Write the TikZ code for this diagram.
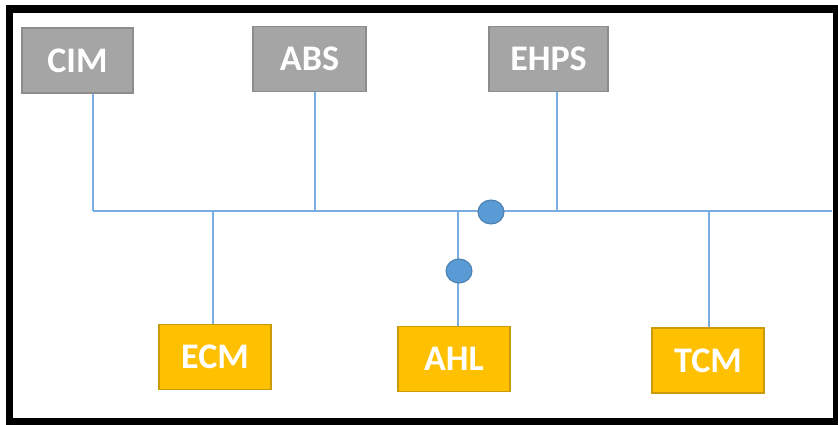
\documentclass[tikz,border=0pt]{standalone}
\usepackage{fontspec}
\setmainfont{Carlito}
\usetikzlibrary{shapes.geometric}
\definecolor{boxgray}{HTML}{A5A5A5}
\definecolor{boxgrayline}{HTML}{8C8C8C}
\definecolor{boxgold}{HTML}{FFC000}
\definecolor{boxgoldline}{HTML}{C99A0A}
\definecolor{busblue}{HTML}{7AAEE0}
\definecolor{dotblue}{HTML}{5B9BD5}
\definecolor{dotline}{HTML}{4A7FB0}

\begin{document}
\begin{tikzpicture}[x=0.02cm, y=-0.02cm,
    ecu/.style={draw, line width=0.6pt, minimum height=1.3cm, inner sep=0pt,
                text=white, font=\bfseries\fontsize{20.5}{20.5}\selectfont},
    graybox/.style={ecu, fill=boxgray, draw=boxgrayline},
    goldbox/.style={ecu, fill=boxgold, draw=boxgoldline},
    bus/.style={draw=busblue, line width=1.1pt},
    tap/.style={ellipse, fill=dotblue, draw=dotline, line width=0.6pt,
                minimum width=0.52cm, minimum height=0.48cm, inner sep=0pt}]
  \useasboundingbox (0,0) rectangle (838,425);
  \fill[white] (0,0) rectangle (838,425);
  \draw[line width=0.16cm] (9.5,9) rectangle (837,421.5);

  % modules on top
  \node[graybox, minimum width=2.22cm] (CIM)  at (77.5,60.5) {CIM};
  \node[graybox, minimum width=2.26cm] (ABS)  at (309.5,59)  {ABS};
  \node[graybox, minimum width=2.38cm] (EHPS) at (548.5,59)  {EHPS};

  % modules below
  \node[goldbox, minimum width=2.24cm] (ECM) at (215,357)   {ECM};
  \node[goldbox, minimum width=2.24cm] (AHL) at (454,359)   {AHL};
  \node[goldbox, minimum width=2.24cm] (TCM) at (708,360.5) {TCM};

  % the bus and its drops
  \coordinate (busL) at (93,211);
  \coordinate (busR) at (832,211);
  \coordinate (tCIM)  at (93,211);
  \coordinate (tABS)  at (315,211);
  \coordinate (tEHPS) at (557,211);
  \coordinate (tECM)  at (213,211);
  \coordinate (tAHL)  at (458,211);
  \coordinate (tTCM)  at (709,211);

  \draw[bus] (busL) -- (busR);
  \draw[bus] (tCIM)  -- (tCIM |- CIM.south);
  \draw[bus] (tABS)  -- (tABS |- ABS.south);
  \draw[bus] (tEHPS) -- (tEHPS |- EHPS.south);
  \draw[bus] (tECM)  -- (tECM |- ECM.north);
  \draw[bus] (tAHL)  -- (tAHL |- AHL.north);
  \draw[bus] (tTCM)  -- (tTCM |- TCM.north);

  \node[tap] (dotBus) at (491,212) {};
  \node[tap] (dotAHL) at (459,271) {};
\end{tikzpicture}
\end{document}
